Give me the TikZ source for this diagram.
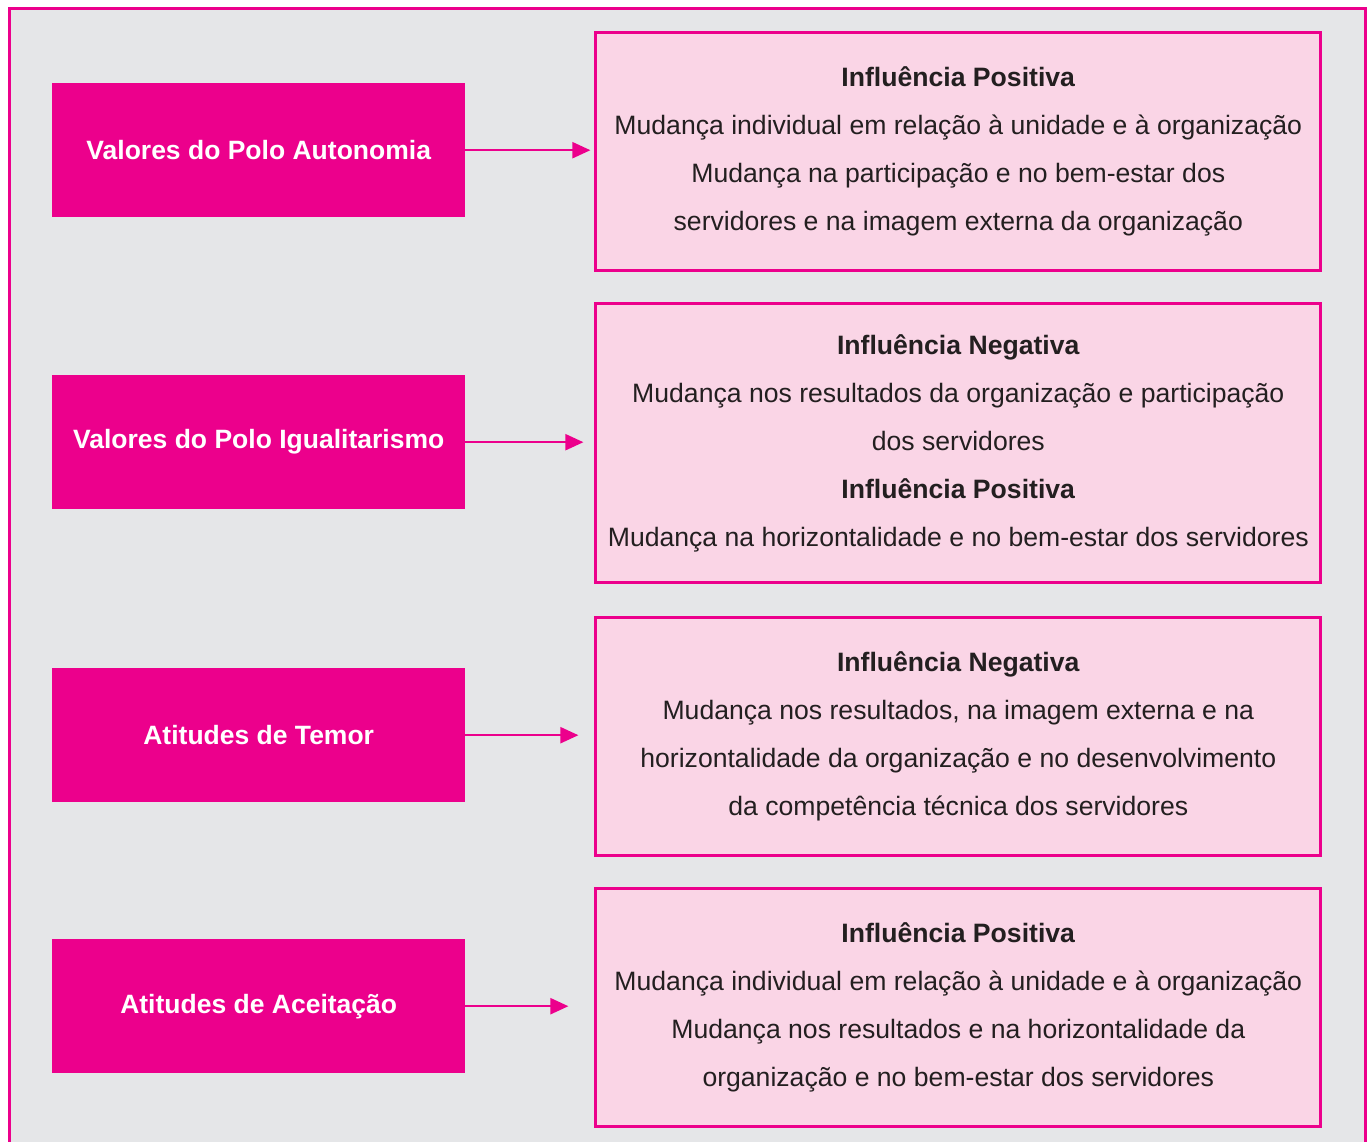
\documentclass[tikz,border=0pt]{standalone}
\usepackage{fontspec}
\setmainfont{Liberation Sans}
\usetikzlibrary{arrows.meta}
\definecolor{mag}{HTML}{EC008C}
\definecolor{pinkfill}{HTML}{FAD5E6}
\definecolor{bggray}{HTML}{E5E6E8}
\definecolor{txt}{HTML}{231F20}
\begin{document}
\begin{tikzpicture}[x=1pt,y=-1pt,
  leftbox/.style={fill=mag, text=white, font=\bfseries\fontsize{26.5}{30}\selectfont,
    minimum width=413pt, minimum height=134pt, inner sep=0pt, anchor=north west},
  rightbox/.style={draw=mag, line width=2.8pt, fill=pinkfill, text=txt, align=center,
    font=\fontsize{26.6}{48}\selectfont, minimum width=725pt, inner sep=0pt, anchor=north west},
  conn/.style={draw=mag, line width=2.2pt, -{Triangle[length=18pt,width=16pt]}}]
\useasboundingbox (0,0) rectangle (1368,1142);
\fill[bggray] (9.5,8.5) rectangle (1365.5,1142);
\draw[mag, line width=3pt] (9.5,1150) -- (9.5,8.5) -- (1365.5,8.5) -- (1365.5,1150);

\node[leftbox] (l1) at (52,83) {Valores do Polo Autonomia};
\node[leftbox] (l2) at (52,375) {Valores do Polo Igualitarismo};
\node[leftbox] (l3) at (52,668) {Atitudes de Temor};
\node[leftbox] (l4) at (52,939) {Atitudes de Aceitação};

\node[rightbox, minimum height=238pt] (r1) at (594.4,31.4) {\textbf{Influência Positiva}\\
Mudança individual em relação à unidade e à organização\\
Mudança na participação e no bem-estar dos\\
servidores e na imagem externa da organização};
\node[rightbox, minimum height=279pt] (r2) at (594.4,302.4) {\textbf{Influência Negativa}\\
Mudança nos resultados da organização e participação\\
dos servidores\\
\textbf{Influência Positiva}\\
Mudança na horizontalidade e no bem-estar dos servidores};
\node[rightbox, minimum height=238pt] (r3) at (594.4,616.4) {\textbf{Influência Negativa}\\
Mudança nos resultados, na imagem externa e na\\
horizontalidade da organização e no desenvolvimento\\
da competência técnica dos servidores};
\node[rightbox, minimum height=238pt] (r4) at (594.4,887.4) {\textbf{Influência Positiva}\\
Mudança individual em relação à unidade e à organização\\
Mudança nos resultados e na horizontalidade da\\
organização e no bem-estar dos servidores};

\draw[conn, shorten >=4pt] (l1.east) -- (l1.east -| r1.west);
\draw[conn, shorten >=11pt] (l2.east) -- (l2.east -| r2.west);
\draw[conn, shorten >=16pt] (l3.east) -- (l3.east -| r3.west);
\draw[conn, shorten >=26pt] (l4.east) -- (l4.east -| r4.west);
\end{tikzpicture}
\end{document}
